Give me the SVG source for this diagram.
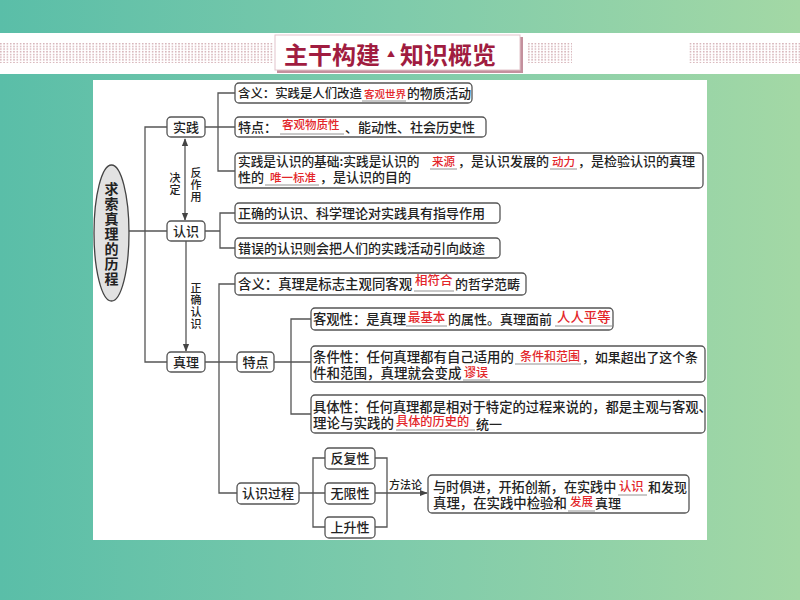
<svg xmlns="http://www.w3.org/2000/svg" width="800" height="600" viewBox="0 0 800 600">
<defs>
<linearGradient id="bg" x1="0" y1="0" x2="1" y2="0">
<stop offset="0" stop-color="#5abea8"/>
<stop offset="0.5" stop-color="#7fcbab"/>
<stop offset="1" stop-color="#a3d8a5"/>
</linearGradient>
<pattern id="dots" x="0" y="43" width="3.3" height="2.7" patternUnits="userSpaceOnUse">
<rect x="0" y="0" width="1.6" height="1.4" fill="#d6b3b8"/>
</pattern>
<marker id="ah" viewBox="0 0 10 10" refX="9" refY="5" markerWidth="6" markerHeight="6" orient="auto-start-reverse">
<path d="M0,1 L10,5 L0,9 Z" fill="#444"/>
</marker>
<style>
.box{fill:#fff;stroke:#555;stroke-width:1.3}
.t{font-family:"Noto Sans CJK SC","Noto Sans",sans-serif;font-size:13px;font-weight:500;fill:#222}
.c{text-anchor:middle}
.v{writing-mode:vertical-rl;letter-spacing:1px}
.r{fill:#e3262a;font-size:11.5px}
.s{font-size:11px}
.u{stroke:#777;stroke-width:0.8}
.ln{stroke:#555;stroke-width:1.3;fill:none}
.ti{font-family:"Noto Sans CJK SC",sans-serif;font-size:24px;font-weight:700;fill:#a01c40}
</style>
</defs>

<!-- background -->
<rect x="0" y="0" width="800" height="600" fill="url(#bg)"/>
<rect x="0" y="33" width="800" height="41" fill="#fff"/>
<rect x="0" y="43" width="273" height="20" fill="url(#dots)"/>
<rect x="528" y="43" width="44" height="20" fill="url(#dots)"/>
<rect x="689" y="43" width="111" height="20" fill="url(#dots)"/>
<rect x="93" y="80" width="614" height="460" fill="#fff"/>

<!-- header -->
<g id="header">
<rect x="277" y="37" width="246" height="36" fill="#c4909d"/>
<rect x="275" y="35" width="245" height="35" fill="#fff" stroke="#e2c4cb" stroke-width="1"/>
<text class="ti" x="284" y="64">主干构建</text>
<text class="ti" x="387" y="57" style="font-size:8px">▲</text>
<text class="ti" x="400" y="64">知识概览</text>
</g>

<!-- connectors -->
<g id="connectors">
<path class="ln" d="M129,231 H167"/>
<path class="ln" d="M167,127 H145 V362 H167"/>
<path class="ln" d="M235,93 H218 V171 H235 M205,127 H235"/>
<path class="ln" d="M235,213 H220 V248 H235 M205,231 H220"/>
<path class="ln" d="M235,284 H219 V493 H237 M205,362 H237"/>
<path class="ln" d="M311,319 H291 V414 H311 M274,362 H311"/>
<path class="ln" d="M299,493 H313 M325,458 H313 V527 H325 M313,493 H325"/>
<path class="ln" d="M375,458 H387 V527 H375 M375,493 H387"/>
<path class="ln" d="M387,493 H427" marker-end="url(#ah)"/>
<path class="ln" d="M185,139 V220" marker-start="url(#ah)" marker-end="url(#ah)"/>
<path class="ln" d="M186,241 V351" marker-end="url(#ah)"/>
<text class="t s v" x="175" y="172">决定</text>
<text class="t s v" x="196" y="167">反作用</text>
<text class="t s v" x="196" y="282">正确认识</text>
<text class="t s" x="389" y="489">方法论</text>
</g>

<!-- nodes -->
<g id="root">
<ellipse cx="111.5" cy="233" rx="17.5" ry="68" fill="#e2e2e2" stroke="#444" stroke-width="1.3"/>
<text class="t v" x="111.5" y="182" style="font-size:14px;font-weight:700">求索真理的历程</text>
</g>

<g id="shijian">
<rect class="box" x="167" y="117" width="38" height="20" rx="4"/>
<text class="t c" x="186" y="132">实践</text>
</g>
<g id="renshi">
<rect class="box" x="167" y="221" width="38" height="20" rx="4"/>
<text class="t c" x="186" y="236">认识</text>
</g>
<g id="zhenli">
<rect class="box" x="167" y="352" width="38" height="20" rx="4"/>
<text class="t c" x="186" y="367">真理</text>
</g>

<g id="sj-hanyi">
<rect class="box" x="235" y="83" width="237" height="20" rx="4"/>
<text class="t" x="238" y="98" style="font-size:12.4px">含义：实践是人们改造</text>
<line class="u" x1="362" y1="101" x2="406" y2="101"/>
<text class="t r" x="364" y="98" style="font-size:10.5px">客观世界</text>
<text class="t" x="407" y="98" style="font-size:12.8px">的物质活动</text>
</g>
<g id="sj-tedian">
<rect class="box" x="235" y="117" width="251" height="20" rx="4"/>
<text class="t" x="238" y="132">特点：</text>
<line class="u" x1="280" y1="134" x2="344" y2="134"/>
<text class="t r" x="282" y="129">客观物质性</text>
<text class="t" x="345" y="132">、能动性、社会历史性</text>
</g>
<g id="sj-jichu">
<rect class="box" x="235" y="153" width="468" height="35" rx="4"/>
<text class="t" x="238" y="166" style="font-size:12.7px">实践是认识的基础:实践是认识的</text>
<line class="u" x1="430" y1="169" x2="457" y2="169"/>
<text class="t r" x="432" y="166">来源</text>
<text class="t" x="458" y="166">，是认识发展的</text>
<line class="u" x1="550" y1="169" x2="577" y2="169"/>
<text class="t r" x="552" y="166">动力</text>
<text class="t" x="578" y="166">，是检验认识的真理</text>
<text class="t" x="238" y="182">性的</text>
<line class="u" x1="265" y1="185" x2="319" y2="185"/>
<text class="t r" x="270" y="182">唯一标准</text>
<text class="t" x="320" y="182">，是认识的目的</text>
</g>

<g id="rs-zhengque">
<rect class="box" x="235" y="203" width="265" height="20" rx="4"/>
<text class="t" x="238" y="218">正确的认识、科学理论对实践具有指导作用</text>
</g>
<g id="rs-cuowu">
<rect class="box" x="235" y="238" width="265" height="20" rx="4"/>
<text class="t" x="238" y="253">错误的认识则会把人们的实践活动引向歧途</text>
</g>

<g id="zl-hanyi">
<rect class="box" x="235" y="273" width="291" height="22" rx="4"/>
<text class="t" x="238" y="289" style="font-size:13.4px">含义：真理是标志主观同客观</text>
<line class="u" x1="414" y1="291" x2="454" y2="291"/>
<text class="t r" x="415" y="285" style="font-size:12.5px">相符合</text>
<text class="t" x="455" y="289">的哲学范畴</text>
</g>

<g id="zl-tedian">
<rect class="box" x="237" y="352" width="37" height="20" rx="4"/>
<text class="t c" x="255.5" y="367">特点</text>
</g>

<g id="keguanxing">
<rect class="box" x="311" y="308" width="302" height="22" rx="4"/>
<text class="t" x="313" y="324" style="font-size:13.3px">客观性：是真理</text>
<line class="u" x1="406" y1="326" x2="447" y2="326"/>
<text class="t r" x="408" y="322" style="font-size:12.4px">最基本</text>
<text class="t" x="448" y="324">的属性。真理面前</text>
<line class="u" x1="555" y1="326" x2="612" y2="326"/>
<text class="t r" x="557" y="322" style="font-size:13.4px">人人平等</text>
</g>

<g id="tiaojianxing">
<rect class="box" x="311" y="346" width="394" height="36" rx="4"/>
<text class="t" x="313" y="362" style="font-size:13.4px">条件性：任何真理都有自己适用的</text>
<line class="u" x1="515" y1="364" x2="581" y2="364"/>
<text class="t r" x="520" y="361" style="font-size:12px">条件和范围</text>
<text class="t" x="582" y="362" style="font-size:12.9px">，如果超出了这个条</text>
<text class="t" x="313" y="378" style="font-size:13.5px">件和范围，真理就会变成</text>
<line class="u" x1="463" y1="380" x2="490" y2="380"/>
<text class="t r" x="464" y="377" style="font-size:12px">谬误</text>
</g>

<g id="jutixing">
<rect class="box" x="311" y="395" width="394" height="38" rx="4"/>
<text class="t" x="313" y="412" style="font-size:13.3px">具体性：任何真理都是相对于特定的过程来说的，都是主观与客观、</text>
<text class="t" x="313" y="428" style="font-size:13.5px">理论与实践的</text>
<line class="u" x1="396" y1="430" x2="475" y2="430"/>
<text class="t r" x="396" y="426" style="font-size:12.2px">具体的历史的</text>
<text class="t" x="476" y="429">统一</text>
</g>

<g id="renshiguocheng">
<rect class="box" x="237" y="483" width="62" height="21" rx="4"/>
<text class="t c" x="268" y="498">认识过程</text>
</g>
<g id="fanfuxing">
<rect class="box" x="325" y="448" width="50" height="21" rx="4"/>
<text class="t c" x="350" y="463">反复性</text>
</g>
<g id="wuxianxing">
<rect class="box" x="325" y="483" width="50" height="21" rx="4"/>
<text class="t c" x="350" y="498">无限性</text>
</g>
<g id="shangshengxing">
<rect class="box" x="325" y="517" width="50" height="21" rx="4"/>
<text class="t c" x="350" y="532">上升性</text>
</g>

<g id="fangfalun">
<rect class="box" x="428" y="475" width="261" height="38" rx="4"/>
<text class="t" x="433" y="492" style="font-size:13.1px">与时俱进，开拓创新，在实践中</text>
<line class="u" x1="618" y1="495" x2="647" y2="495"/>
<text class="t r" x="619" y="491" style="font-size:12.3px">认识</text>
<text class="t" x="648" y="492">和发现</text>
<text class="t" x="433" y="508" style="font-size:13.4px">真理，在实践中检验和</text>
<line class="u" x1="568" y1="511" x2="595" y2="511"/>
<text class="t r" x="570" y="506">发展</text>
<text class="t" x="595" y="508">真理</text>
</g>
</svg>
